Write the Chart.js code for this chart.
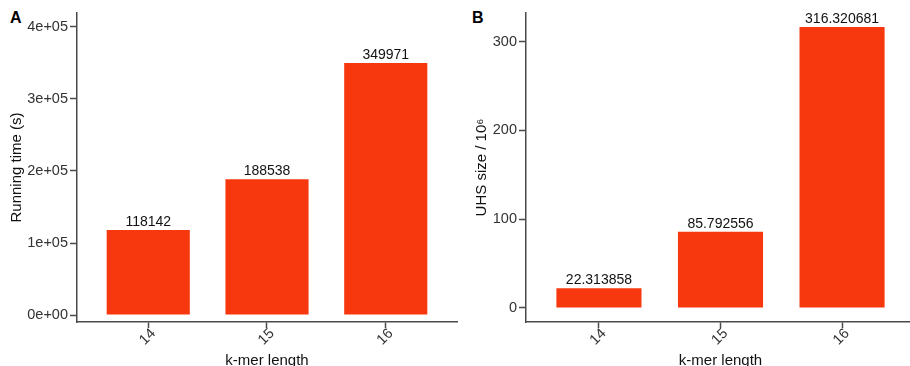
<!DOCTYPE html>
<html>
<head>
<meta charset="utf-8">
<script src="https://cdn.jsdelivr.net/npm/chart.js@4"></script>
<style>
  body { margin: 0; width: 910px; height: 366px; overflow: hidden; background: #fff; position: relative; font-family: 'Liberation Sans', Arial, sans-serif; }
  canvas { position: absolute; top: 0; }
  #chartA { left: 0; }
  #chartB { left: 465px; }
  .tag { position: absolute; top: 9px; font-weight: bold; font-size: 16px; color: #000; }
</style>
</head>
<body>
<div class="tag" style="left:10px">A</div>
<div class="tag" style="left:472px">B</div>
<canvas id="chartA" width="462" height="375"></canvas>
<canvas id="chartB" width="455" height="375"></canvas>
<script>
'use strict';

// k-mer lengths on the x axis
let kmerLengths = [14, 15, 16];
let kmerLabels = ['14', '15', '16'];

// panel A: running time in seconds
let runningTimes = [118142, 188538, 349971];
let runningTicks = [0, 100000, 200000, 300000, 400000];
let runningTickLabels = ['0e+00', '1e+05', '2e+05', '3e+05', '4e+05'];

// panel B: UHS size / 10^6
let uhsSizes = [22.313858, 85.792556, 316.320681];
let uhsTicks = [0, 100, 200, 300];
let uhsTickLabels = ['0', '100', '200', '300'];

let barColor = '#F7380E';
let axisColor = '#4a4a4a';
let fontFamily = "'Liberation Sans', Arial, sans-serif";

// writes the value above every bar
let barLabels = {
  id: 'barLabels',
  afterDatasetsDraw(chart) {
    let ctx = chart.ctx;
    let meta = chart.getDatasetMeta(0);
    let values = chart.data.datasets[0].data;
    ctx.save();
    ctx.fillStyle = '#111';
    ctx.font = '14px ' + fontFamily;
    ctx.textAlign = 'center';
    ctx.textBaseline = 'bottom';
    for (let i = 0; i < meta.data.length; i++) {
      let bar = meta.data[i];
      ctx.fillText(String(values[i].y), bar.x, bar.y - 1);
    }
    ctx.restore();
  }
};

function makeChart(id, values, yMin, yMax, yTicks, yTickLabels, yTitle, yWidth, titlePad) {
  let points = [];
  for (let i = 0; i < kmerLengths.length; i++) {
    points.push({ x: kmerLengths[i], y: values[i] });
  }

  return new Chart(document.getElementById(id), {
    type: 'bar',
    data: {
      datasets: [{
        data: points,
        backgroundColor: barColor,
        borderWidth: 0,
        barPercentage: 0.7,
        categoryPercentage: 1
      }]
    },
    plugins: [barLabels],
    options: {
      responsive: false,
      animation: false,
      layout: { padding: { top: 13, right: 5, left: 0, bottom: 0 } },
      plugins: { legend: { display: false }, tooltip: { enabled: false } },
      scales: {
        x: {
          type: 'linear',
          min: 13.4,
          max: 16.6,
          offset: false,
          afterBuildTicks: (scale) => { scale.ticks = kmerLengths.map(v => ({ value: v })); },
          afterFit: (scale) => { scale.height = 53; },
          grid: { offset: false, drawOnChartArea: false, drawTicks: true, tickLength: 6, tickColor: axisColor, tickWidth: 1.5 },
          border: { display: true, color: axisColor, width: 1.5 },
          ticks: {
            minRotation: 45,
            maxRotation: 45,
            padding: -3,
            labelOffset: 5,
            color: '#333',
            font: { size: 14.5, family: fontFamily },
            callback: (v) => kmerLabels[kmerLengths.indexOf(v)]
          },
          title: {
            display: true,
            text: 'k-mer length',
            color: '#111',
            font: { size: 15, family: fontFamily },
            padding: { top: 0, bottom: 5 }
          }
        },
        y: {
          min: yMin,
          max: yMax,
          afterBuildTicks: (scale) => { scale.ticks = yTicks.map(v => ({ value: v })); },
          afterFit: (scale) => { scale.width = yWidth; },
          grid: { drawOnChartArea: false, drawTicks: true, tickLength: 7, tickColor: axisColor, tickWidth: 1.5 },
          border: { display: true, color: axisColor, width: 1.5 },
          ticks: {
            padding: 2,
            color: '#333',
            font: { size: 14.5, family: fontFamily },
            callback: (v) => yTickLabels[yTicks.indexOf(v)]
          },
          title: {
            display: true,
            text: yTitle,
            color: '#111',
            font: { size: 15, family: fontFamily },
            padding: { top: 8, bottom: 0 }
          }
        }
      }
    }
  });
}

makeChart('chartA', runningTimes, -9722, 419444, runningTicks, runningTickLabels, 'Running time (s)', 77, 8);
makeChart('chartB', uhsSizes, -15.8, 332.1, uhsTicks, uhsTickLabels, 'UHS size / 10\u2076', 61, 8);
</script>
</body>
</html>
